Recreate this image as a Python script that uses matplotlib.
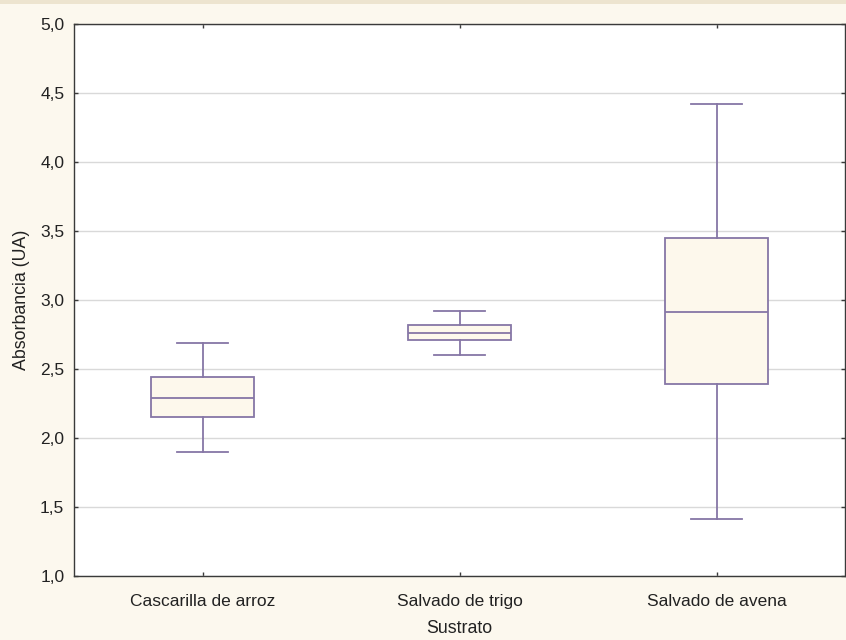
import matplotlib
matplotlib.use("Agg")
import matplotlib.pyplot as plt
from matplotlib.ticker import FuncFormatter

plt.rcParams['font.family'] = ['Liberation Sans', 'DejaVu Sans']

# Box-plot summary per substrate
categories = ["Cascarilla de arroz", "Salvado de trigo", "Salvado de avena"]
whisker_low = [1.90, 2.60, 1.41]
q1 = [2.15, 2.71, 2.39]
median = [2.29, 2.76, 2.91]
q3 = [2.44, 2.82, 3.45]
whisker_high = [2.69, 2.92, 4.42]
y_ticks = [1.0, 1.5, 2.0, 2.5, 3.0, 3.5, 4.0, 4.5, 5.0]

stats = [
    dict(whislo=lo, q1=a, med=m, q3=b, whishi=hi, label=c)
    for c, lo, a, m, b, hi in zip(categories, whisker_low, q1, median, q3, whisker_high)
]

line_color = "#8676a6"
face_color = "#fdf8ec"
bg_color = "#fcf8ee"
text_color = "#222222"

fig = plt.figure(figsize=(8.46, 6.4), dpi=100, facecolor=bg_color)
# thin darker band across the top
fig.patches.append(plt.Rectangle((0, 1 - 4 / 640), 1, 4 / 640, transform=fig.transFigure,
                                 facecolor="#ede4cf", edgecolor="none", zorder=0))
ax = fig.add_axes([74 / 846, 1 - 576 / 640, (845 - 74) / 846, (576 - 24) / 640])
ax.set_facecolor("white")

ax.bxp(stats, positions=range(len(categories)), widths=0.4, patch_artist=True,
       showfliers=False, showcaps=True,
       boxprops=dict(facecolor=face_color, edgecolor=line_color, linewidth=1.3),
       medianprops=dict(color=line_color, linewidth=1.3),
       whiskerprops=dict(color=line_color, linewidth=1.3),
       capprops=dict(color=line_color, linewidth=1.3),
       capwidths=0.2)

ax.set_xlim(-0.5, len(categories) - 0.5)
ax.set_ylim(1.0, 5.0)
ax.set_yticks(y_ticks)
ax.yaxis.set_major_formatter(FuncFormatter(lambda v, p: f"{v:.1f}".replace(".", ",")))
ax.set_xticks(range(len(categories)))
ax.set_xticklabels(categories)

ax.grid(axis="y", color="#d9d9d9", linewidth=1.0)
ax.set_axisbelow(True)

for s in ax.spines.values():
    s.set_color("#3a3a3a")
    s.set_linewidth(1.0)

ax.tick_params(axis="both", direction="in", length=3, width=1, color="#3a3a3a",
               top=True, right=True, labelsize=12.5, labelcolor=text_color)
ax.tick_params(axis="x", pad=13)
ax.tick_params(axis="y", pad=7)

ax.set_xlabel("Sustrato", fontsize=12.8, color=text_color, labelpad=8)
ax.set_ylabel("Absorbancia (UA)", fontsize=12.8, color=text_color, labelpad=7)

fig.savefig("out.png", dpi=100, facecolor=bg_color)
